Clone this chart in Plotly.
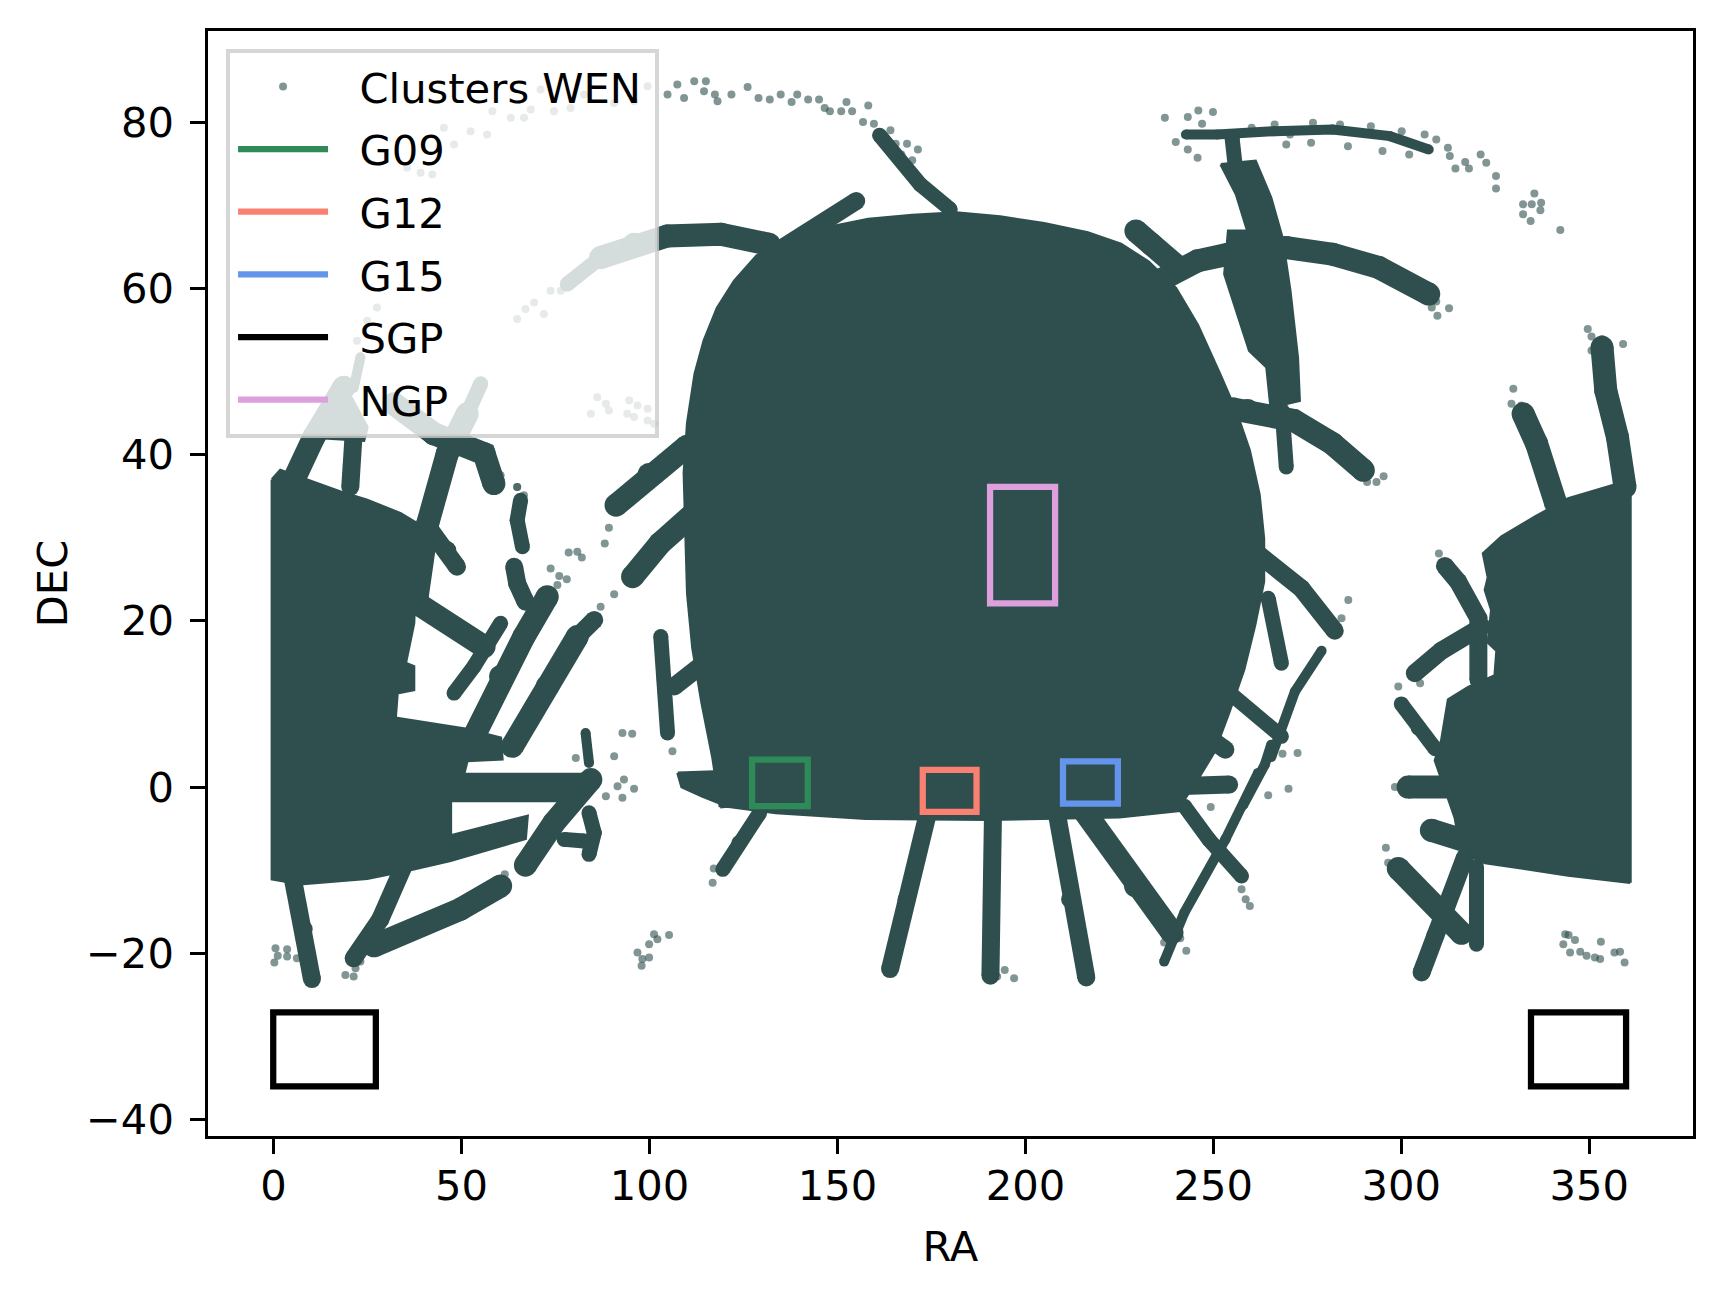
import plotly.graph_objects as go

DARK = "#2f4f4f"
N = None

x_ticks = [0, 50, 100, 150, 200, 250, 300, 350]
y_ticks = [-40, -20, 0, 20, 40, 60, 80]

# Solid regions where cluster points merge (RA, DEC outlines)
central_ra = [118.8,116.8,113.9,111.5,110.1,109.5,109.2,110.1,112.1,114.5,118,122.6,128.5,135.5,145.1,158.2,169.9,181.6,193.3,205,216.6,225.4,232.7,240,245.8,251.7,256.1,259.6,262.2,263.4,263.4,261,258.1,254,250.2,245.8,241.5,241.5,225,190,157.5,133.6,120.6,118.8]
central_dec = [-2.4,3.6,10.2,16.7,23.3,31.2,37.8,43.8,49.7,53.7,57.6,60.9,63.9,65.8,67.1,68.3,68.8,69.1,68.6,67.8,66.7,65.3,63.2,60,55.6,49.7,45.1,40.5,35.2,29.9,24.7,19.4,14.1,8.8,4.2,0.9,-2,-2.8,-3.6,-3.9,-3.8,-3.1,-2.3,-2.4]

left_ra = [-0.4,-0.4,7.1,24.9,37.3,47.1,67,67.5,47.1,47.1,75.5,84.4,50.6,51.5,60.8,60.4,51,32.4,32.9,37.3,37.3,35.1,37.3,38.2,33.8,24.9,17.8,12.9,1.8,-0.4]
left_dec = [37,-11.05,-11.65,-11,-9.85,-8.85,-6.2,-3.5,-5.85,-1.65,-1.65,1.55,1.55,3.15,3.35,5.9,7,8.3,11.3,11.7,14.5,14.9,19.7,31.7,32.9,34.5,35.5,36.3,38.1,37]

right_ra = [360.9,344.4,322.3,316,314.3,309,310.7,312.5,317.8,324.9,325.4,323.1,324,322.3,323.1,321.8,326.7,335.6,344.4,356,360.9,360.9]
right_dec = [-11.5,-10.6,-9.1,-7.9,-3.7,3.2,5.6,10.5,12,13.4,16.4,17.4,21.3,23.7,25.2,28.1,30.1,32.5,34.7,36.2,36.9,-11.5]

band_ra = [252,261.2,265.3,268.3,270.4,272.4,272.9,265.3,264.2,259.6,253,254,259.1,256.1,252]
band_dec = [74.9,75.3,70.9,66.1,59.7,51.7,46.5,45.7,50.5,52.5,61.7,66.9,66.9,71.3,74.9]

wedge_ra = [8.9,18.7,24.9,24,8.9]
wedge_dec = [42.1,48.5,43.3,41.7,42.1]

nub_ra = [107.5,120.6,120.6,114,108.6,107.5]
nub_dec = [1.7,1.9,-2.3,-1.1,0,1.7]

# Streaks of clusters, grouped by how thick they look; None separates streaks
thin_ra = [242.7,251,266.3,281.7,297,307.3,N,23.1,21.3,N,83,83.9,N,253.2,261.9,N,265.4,271.7,278.8,N,257.9,263.7,265.4,N,253.2,242.3,236.9]
thin_dec = [78.5,78.5,78.9,79.1,78.3,76.7,N,51.7,48,N,6.5,2.9,N,-6.3,1.7,N,3.6,11.5,16.4,N,-2.2,2.7,5.1,N,-6.3,-15.1,-21]

narrow_ra = [161.2,172,180,N,255,256,N,103,103.9,104.8,N,65.7,64.8,66.2,N,48,53.3,60.4,N,268.3,269.4,N,119.5,123.8,129.3,N,264.6,268.1,N,253.9,268.1,N,300,304.5,309,N,320,320,N,242.3,248.8,257.5,N,78.1,87,N,83.9,85.3,83.9,N,77.3,82.6,N,55.1,51.5]
narrow_dec = [78.4,72.5,69.5,N,78,74,N,18.1,12.9,6.5,N,34.5,32.1,28.9,N,11.3,14.5,19.7,N,45.3,38.5,N,-9.9,-6.7,-3.1,N,22.7,14.9,N,11.5,6.1,N,10,7.1,4.6,N,-9.6,-18.9,N,-2.3,-6.3,-10.7,N,60.5,63.7,N,-3.1,-5.5,-8.1,N,-6.3,-6.5,N,48.5,44.9]

medium_ra = [174.4,168.4,164,N,191.4,190.7,N,208.1,211.9,216.2,N,4.9,8,10.2,N,34.6,28.4,21.3,N,41.7,46.2,48.8,N,64,64.8,67,N,240,254.2,N,244.5,253.2,N,262,273.4,282.3,N,305.4,309,316.9,N,311.6,315.1,320.5,320.5,N,132,155,N,106.6,114.5,N,303.6,310.7,321.4,N,20.4,21.3,N,80.8,85.3]
medium_dec = [-2.5,-13.5,-21.9,N,-2.5,-22.7,N,-2.5,-13.5,-22.9,N,-10.5,-17.1,-23.1,N,-9.5,-15.9,-20.6,N,30.9,28.5,26.5,N,26.5,24.5,22.3,N,0.1,0.3,N,7.3,4.5,N,28,23.9,18.8,N,-22.3,-17.9,-8.5,N,26.6,24.7,20.3,12.9,N,63.9,70.5,N,12.1,14.9,N,13.7,16.4,19.3,N,36.1,42.5,N,18.1,20.1]

wide_ra = [215,229.3,239,N,91.1,99.9,110,N,95.5,102.8,112,N,51.5,46.2,41,38.2,N,32,42.6,56,58.6,N,38.2,56,N,53.3,60.4,66.6,72.8,N,63.5,72.8,80.8,N,67,74.6,84.4,N,301.8,314,N,308,318,N,299.2,310.7,316,N,4.5,10.7,18.7,N,332.4,336,341.1,N,353.4,354.4,357.5,359.5,N,236,245.8,254,269.4,281.7,294,307.3,N,87,95.9,104.8,119,131.8,N,255,259.1,271.4,281.7,289.9,N,229.4,233.5,240.7,N,26.7,49.7,60.4]
wide_dec = [-2.5,-11.9,-17.5,N,33.9,37.6,41,N,25.3,29.3,33,N,44.9,40.1,31.7,22.9,N,46.1,42.5,40.1,36.5,N,22.1,16.9,N,6.1,13.3,18.1,22.9,N,4.9,12.1,18.1,N,-9.4,-4.3,0.9,N,0,0,N,-5.2,-6.6,N,-9.8,-15,-17.6,N,36.1,42.1,48.1,N,44.9,41.3,34.1,N,52.9,47.7,42.1,36.1,N,61,63.3,64.1,64.9,64.1,62.5,59.3,N,63.7,65.3,66.3,66.5,65.3,N,45.5,45.3,44.1,41.3,38.1,N,66.9,65.3,62.5,N,-19.1,-14.7,-11.9]

# Sparse clusters read individually
stray_ra = [
    35.5,39.1,42.2,45.3,48,52.4,56.8,58.2,63.1,66.6,71,68.4,74.6,79,82.6,90.6,95.9,99.5,107.4,111.9,115,109.2,118.1,104.8,
    114.5,121.8,126.1,129,134.9,137.8,142.2,146.6,151,152.4,156.8,164.1,168.5,167,
    117.4,132,139.3,145.1,148,153.9,158.2,159.7,165.5,169.9,171.4,
    64.8,67,69.3,71.9,73.7,76.4,27.5,24.9,22.2,
    86.1,88.4,84.4,89.2,94.6,96.8,99.5,94.1,95.9,99.5,101.2,60.4,64.8,66.6,
    87,90.6,88.1,89.2,80.8,82,78.5,73.7,76,78,75.5,64.8,106.1,
    80.4,91.5,93.2,95.9,88.4,92.8,90.6,92.8,95.4,0.5,3.6,1.1,0.2,3.6,6.2,19.1,21.3,23.1,21.8,61.5,
    101.2,105.2,99.9,96.8,98.1,99.9,97.9,102.1,117.1,116.8,258.6,259.7,257.5,236.9,241.2,242.8,
    285.9,284.1,272.4,268.4,270,249.3,264.6,
    310,299.2,305,298.3,295.9,296.5,343.6,344.5,346.2,343.1,344.9,347.6,349.3,352.9,351.5,353.1,356.7,358.2,359.4,
    237.1,243.2,246,249.9,243.2,245.8,240,247,321.1,322.6,325.2,325.2,332.4,332.4,334.4,335.4,337.2,337,334.7,342.3,318,314.4,312.4,309.3,312.9,317,
    276.5,283.7,291.9,300.1,306.2,276,285.8,295,302.1,266.3,270.4,260.2,269.4,
    290.9,293.4,295.3,309.3,308.1,312.7,309.6,349.6,350.6,359,350.6,353.4,329.8,329.3,331.9,194.5,197,192.5,
]
stray_dec = [
    74.5,73.9,73.7,79.3,77.3,78.9,78.5,81.3,80.5,80.5,83.9,81.5,81.3,81.7,83.3,82.3,82.5,84.3,84.5,84.9,84.9,82.9,82.5,83.3,
    83.7,83.3,84.2,82.9,83.3,82.4,82.7,81.7,81.3,82.4,80,79,77.4,76.1,
    83.3,82.7,83.3,82.7,81.3,81.3,82,79.8,77.4,75.4,76.7,
    56.3,57.5,58.3,56.9,59.7,59.7,57.7,56.1,53.7,
    46.9,46.1,44.9,45.3,46.5,45.9,45.5,44.9,44.5,44.1,43.7,37.5,36.1,35.1,
    21.7,23.2,29.3,31.2,28.3,27.6,28.2,26.3,25.4,25,24.3,36.1,4.3,
    3.5,0.1,0.9,-0.2,-1.1,-1.3,3.7,6.5,6.4,-19.4,-19.5,-20.3,-21.1,-20.4,-20.6,-22.6,-22.8,-21,-21.8,-10.5,
    -17.7,-17.8,-18.9,-19.9,-20.7,-20.5,-21.5,-18.3,-9.8,-11.5,-13.5,-14.3,-12.3,-18.7,-18.2,-19.7,
    22.5,20.3,4.1,4,-0.2,-2.4,-1,
    28.1,12.1,12.5,0,-7.3,-9.1,-17.7,-17.8,-18.4,-18.9,-19.9,-19.8,-20.3,-20.7,-20.5,-18.6,-19.9,-19.8,-21.1,
    80.5,80.6,81.4,81.2,76.7,75.7,77.6,79.8,76.1,75.1,73.5,72,70.1,68.9,68.1,71.4,70.3,69.4,70.1,67,74.4,74.4,76.9,77.9,75.9,75.2,
    79.9,79.7,79.5,78.9,78.5,77.5,77.1,76.5,76.1,79.7,78.5,79.3,77.3,
    36.7,36.7,37.4,58.4,57.7,57.6,56.7,55.1,54.2,53.3,52.5,53.9,47.9,46.1,45.9,-22,-23,-22.8,
]

# Survey field outlines
g09_ra = [127.3,142.1,142.1,127.3,127.3,142.1]
g09_dec = [-2.3,-2.3,3.3,3.3,-2.3,-2.3]
g12_ra = [172.7,187,187,172.7,172.7,187]
g12_dec = [-3,-3,2.05,2.05,-3,-3]
g15_ra = [210,224.6,224.6,210,210,224.6]
g15_dec = [-2,-2,3.1,3.1,-2,-2]
sgp_ra = [-0.1,27.2,27.2,-0.1,-0.1,27.2,N,334.5,359.8,359.8,334.5,334.5,359.8]
sgp_dec = [-36,-36,-27.1,-27.1,-36,-36,N,-36,-36,-27.1,-27.1,-36,-36]
ngp_ra = [190.6,207.9,207.9,190.6,190.6,207.9]
ngp_dec = [22.1,22.1,36.1,36.1,22.1,22.1]

fields = [
    ("G09", g09_ra, g09_dec, "#2e8b57"),
    ("G12", g12_ra, g12_dec, "#fa8072"),
    ("G15", g15_ra, g15_dec, "#6495ed"),
    ("SGP", sgp_ra, sgp_dec, "#000000"),
    ("NGP", ngp_ra, ngp_dec, "#dda0dd"),
]

FONT = dict(family="DejaVu Sans", size=41.67, color="black")
GAP = "\u00a0\u00a0"
fig = go.Figure()

for rx, ry in [(central_ra, central_dec), (left_ra, left_dec), (right_ra, right_dec),
               (band_ra, band_dec), (wedge_ra, wedge_dec), (nub_ra, nub_dec)]:
    fig.add_trace(go.Scatter(x=rx, y=ry, mode="lines", fill="toself", fillcolor=DARK,
                             line=dict(color=DARK, width=3),
                             showlegend=False, hoverinfo="skip"))

for sx, sy, w in [(thin_ra, thin_dec, 10), (narrow_ra, narrow_dec, 15), (medium_ra, medium_dec, 18),
                  (wide_ra, wide_dec, 23)]:
    fig.add_trace(go.Scatter(x=sx, y=sy, mode="lines+markers", line=dict(color=DARK, width=w),
                             marker=dict(color=DARK, size=w, line=dict(width=0)),
                             showlegend=False, hoverinfo="skip"))

fig.add_trace(go.Scatter(x=stray_ra, y=stray_dec, mode="markers", name=GAP + "Clusters WEN\u2009",
                         legendgroup="a",
                         marker=dict(color="rgba(47,79,79,0.6)", size=8, line=dict(width=0))))

for name, fx, fy, col in fields:
    fig.add_trace(go.Scatter(x=fx, y=fy, mode="lines", name=GAP + name, legendgroup=name,
                             line=dict(color=col, width=6.25)))

fig.update_layout(
    width=1723, height=1298, autosize=False,
    margin=dict(l=199.7, r=38.3, t=22.7, b=169.5),
    paper_bgcolor="white", plot_bgcolor="white",
    font=FONT,
    legend=dict(x=0.01195, y=0.9839, xanchor="left", yanchor="top", indentation=3.3,
                bgcolor="rgba(255,255,255,0.8)", bordercolor="rgba(204,204,204,0.8)", borderwidth=4,
                font=FONT, itemwidth=90, traceorder="grouped", tracegroupgap=5.5),
)
axis = dict(showline=True, linecolor="black", linewidth=3.33, mirror=True, ticks="outside",
            ticklen=14.6, tickwidth=3.33, tickcolor="black", showgrid=False, zeroline=False,
            tickfont=FONT, automargin=False)
fig.update_xaxes(range=[-17.45, 377.6], tickvals=x_ticks, ticklabelstandoff=-4,
                 title=dict(text="RA", font=FONT, standoff=24), **axis)
fig.update_yaxes(range=[-41.98, 90.95], tickvals=y_ticks, ticklabelstandoff=8,
                 title=dict(text="DEC", font=FONT, standoff=6), **axis)

fig.write_html("out.html")
